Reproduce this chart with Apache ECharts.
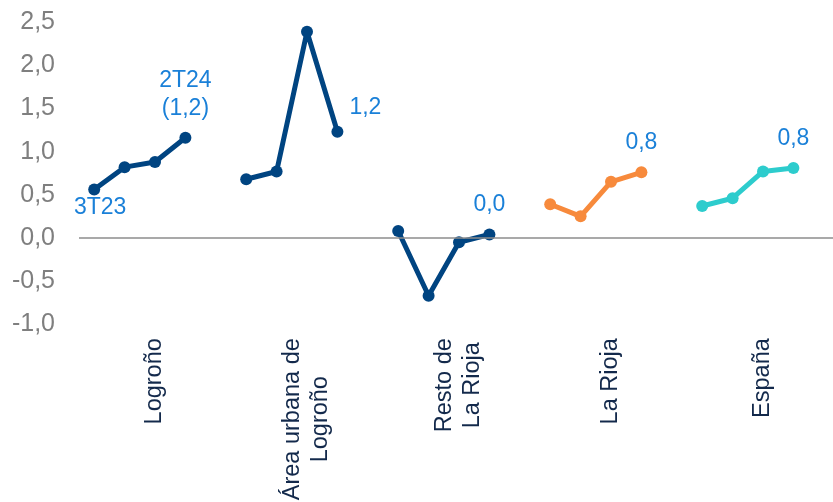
<!DOCTYPE html>
<html>
<head>
<meta charset="utf-8">
<script src="https://cdn.jsdelivr.net/npm/echarts@6/dist/echarts.min.js"></script>
<style>html,body{margin:0;padding:0;background:#fff}#c{width:833px;height:502px}</style>
</head>
<body>
<div id="c"></div>
<script>
// ---- data ----
var groups = ['Logroño', 'Área urbana de\nLogroño', 'Resto de\nLa Rioja', 'La Rioja', 'España'];
var periods = ['3T23', '4T23', '1T24', '2T24'];
var logronoValues = [0.56, 0.82, 0.88, 1.16];
var areaUrbanaValues = [0.68, 0.77, 2.39, 1.23];
var restoValues = [0.08, -0.67, -0.05, 0.04];
var laRiojaValues = [0.39, 0.25, 0.65, 0.76];
var espanaValues = [0.37, 0.46, 0.77, 0.81];
var yTicks = [-1.0, -0.5, 0.0, 0.5, 1.0, 1.5, 2.0, 2.5];

// ---- build ----
var SLOT = 5; // 4 periods + 1 gap per group
var categories = [];
groups.forEach(function (g, gi) {
  for (var i = 0; i < SLOT; i++) categories.push(gi + '|' + (periods[i] || 'gap'));
});
function fmt(v) { return v.toFixed(1).replace('.', ','); }

var navy = '#004481', orange = '#F78A3C', teal = '#2DCCCD', lblBlue = '#1A80D8';
var allValues = [logronoValues, areaUrbanaValues, restoValues, laRiojaValues, espanaValues];
var colors = [navy, navy, navy, orange, teal];

var labelBase = { show: true, color: lblBlue, fontSize: 23, fontFamily: 'Arial' };
function lastLabel(gi, v) {
  if (gi === 0) return Object.assign({}, labelBase, { position: 'top', distance: 9, lineHeight: 28, formatter: periods[3] + '\n(' + fmt(v) + ')' });
  if (gi === 1) return Object.assign({}, labelBase, { position: 'right', distance: 6, offset: [0, -24], formatter: fmt(v) });
  return Object.assign({}, labelBase, { position: 'top', distance: 12, formatter: fmt(v) });
}

var series = allValues.map(function (vals, gi) {
  var data = vals.map(function (v, i) {
    var item = { value: [gi * SLOT + i, v] };
    if (gi === 0 && i === 0) item.label = Object.assign({}, labelBase, { position: 'bottom', distance: 1, offset: [6, 0], formatter: periods[0] });
    if (i === vals.length - 1) item.label = lastLabel(gi, v);
    return item;
  });
  var s = {
    type: 'line',
    data: data,
    symbol: 'circle',
    symbolSize: 12,
    lineStyle: { color: colors[gi], width: 5 },
    itemStyle: { color: colors[gi] },
    label: { show: false },
    z: 3
  };
  if (gi === 0) {
    s.markLine = {
      silent: true, symbol: 'none', label: { show: false },
      lineStyle: { color: '#8c8c8c', width: 1.5, type: 'solid' },
      data: [{ yAxis: 0 }]
    };
  }
  return s;
});

var chart = echarts.init(document.getElementById('c'), null, { renderer: 'canvas' });
chart.setOption({
  animation: false,
  backgroundColor: '#ffffff',
  grid: { left: 79, top: 22.2, width: 760, height: 302, containLabel: false, outerBoundsMode: 'none' },
  xAxis: {
    type: 'category',
    data: categories,
    boundaryGap: true,
    axisLine: { show: false, onZero: false },
    axisTick: { show: false },
    splitLine: { show: false },
    axisLabel: {
      interval: 0,
      rotate: 90,
      margin: 14,
      formatter: function (val, idx) {
        if (idx % SLOT !== 2) return '';
        var g = groups[Math.floor(idx / SLOT)];
        return g.split('\n').map(function (l) { return '{c|' + l + '}'; }).join('\n');
      },
      rich: { c: { fontSize: 23.5, color: '#13294B', lineHeight: 28, align: 'center', fontFamily: 'Arial' } }
    }
  },
  yAxis: {
    type: 'value',
    min: yTicks[0],
    max: yTicks[yTicks.length - 1],
    interval: 0.5,
    axisLine: { show: false },
    axisTick: { show: false },
    splitLine: { show: false },
    axisLabel: {
      margin: 24,
      color: '#7F7F7F',
      fontSize: 25,
      fontFamily: 'Arial',
      formatter: function (v) { return fmt(v); }
    }
  },
  series: series
});
</script>
</body>
</html>
